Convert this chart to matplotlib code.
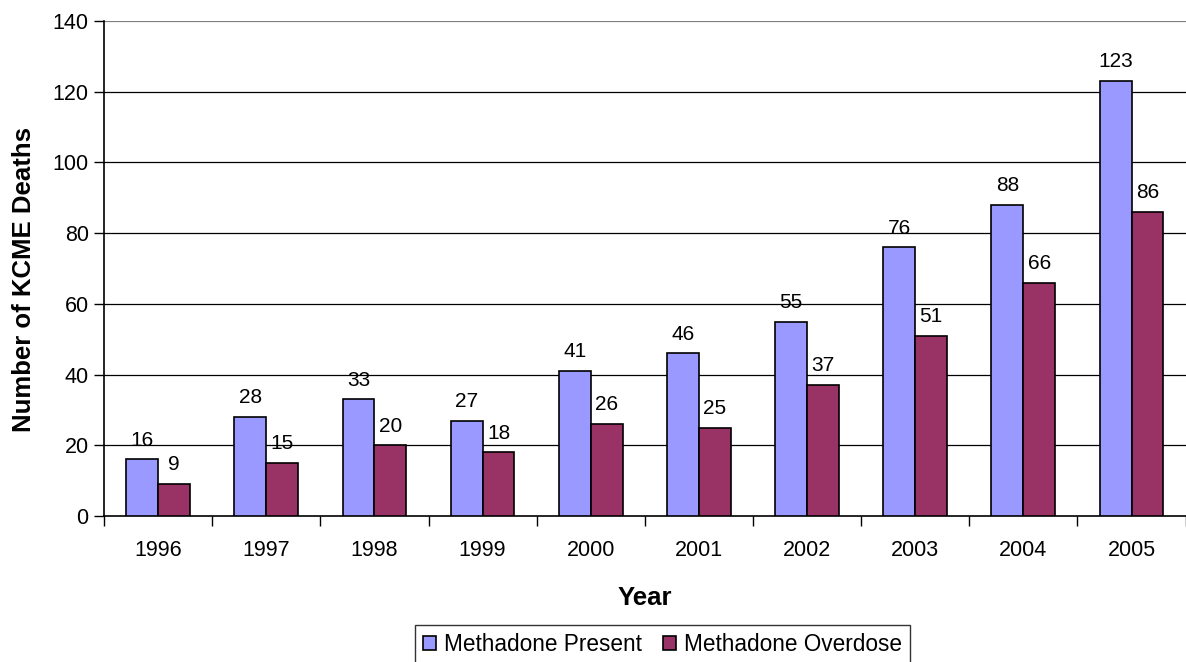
import numpy as np
import matplotlib.pyplot as plt
from matplotlib.ticker import FixedLocator, NullFormatter, FixedFormatter

plt.rcParams['font.family'] = ['Liberation Sans', 'DejaVu Sans']

years = ['1996', '1997', '1998', '1999', '2000', '2001', '2002', '2003', '2004', '2005']
present = [16, 28, 33, 27, 41, 46, 55, 76, 88, 123]
overdose = [9, 15, 20, 18, 26, 25, 37, 51, 66, 86]

fig = plt.figure(figsize=(11.86, 6.62), dpi=100)
ax = fig.add_axes([0.0877, 0.2205, 0.912, 0.7478])

x = np.arange(len(years))
w = 0.295
b1 = ax.bar(x - w/2, present, w, color='#9999FF', edgecolor='black', lw=1.2,
            label='Methadone Present', zorder=3)
b2 = ax.bar(x + w/2, overdose, w, color='#993366', edgecolor='black', lw=1.2,
            label='Methadone Overdose', zorder=3)
ax.bar_label(b1, padding=7, fontsize=15)
ax.bar_label(b2, padding=7, fontsize=15)

ax.set_xlim(-0.5, len(years) - 0.5)
ax.set_ylim(0, 140)
ax.set_yticks(range(0, 141, 20))
for v in range(20, 141, 20):
    ax.axhline(v, color='#808080' if v == 140 else 'black', lw=0.9, zorder=1)

# category boundaries get tick marks, names sit between them
ax.xaxis.set_major_locator(FixedLocator(np.arange(-0.5, len(years), 1.0)))
ax.xaxis.set_major_formatter(NullFormatter())
ax.xaxis.set_minor_locator(FixedLocator(x))
ax.xaxis.set_minor_formatter(FixedFormatter(years))
ax.tick_params(axis='x', which='major', length=7, width=1, direction='out')
ax.tick_params(axis='x', which='minor', length=0, pad=17, labelsize=15.5)
ax.tick_params(axis='y', length=7, width=1, direction='out', labelsize=15.5, pad=4)

for s in ['top', 'right']:
    ax.spines[s].set_visible(False)
ax.spines['left'].set_linewidth(1.2)
ax.spines['bottom'].set_linewidth(1.2)

ax.set_xlabel('Year', fontsize=18.5, fontweight='bold', labelpad=18)
ax.set_ylabel('Number of KCME Deaths', fontsize=18.5, fontweight='bold')
ax.yaxis.set_label_coords(-0.063, 0.477)

leg = fig.legend(loc='upper center', bbox_to_anchor=(0.5586, 0.056), ncol=2,
                 fontsize=16.3, frameon=True, fancybox=False, edgecolor='black',
                 handlelength=0.6, handleheight=0.6, handletextpad=0.35,
                 columnspacing=0.9, borderpad=0.35, borderaxespad=0)
leg.get_frame().set_linewidth(1.0)

fig.savefig('out.png', dpi=100)
